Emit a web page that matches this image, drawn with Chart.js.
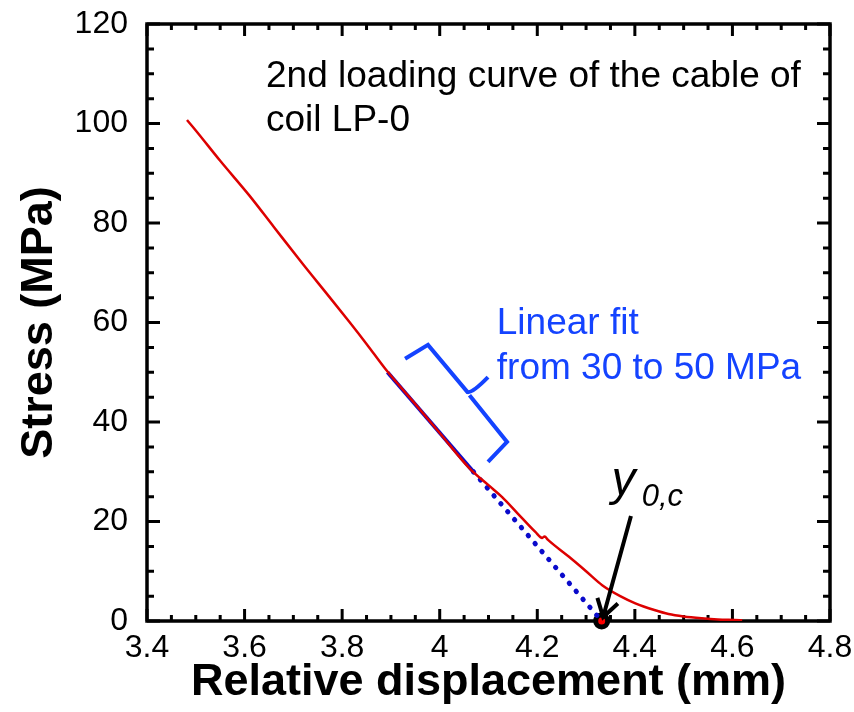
<!DOCTYPE html>
<html>
<head>
<meta charset="utf-8">
<script src="https://cdn.jsdelivr.net/npm/chart.js@4.4.1/dist/chart.umd.min.js"></script>
<style>
  html, body { margin: 0; background: #fff; }
  .wrap { width: 854px; height: 712px; }
</style>
</head>
<body>
<div class="wrap"><canvas id="stress-chart"></canvas></div>
<script>
// 2nd loading curve, cable of coil LP-0
const displacement = [3.482, 3.50, 3.55, 3.61, 3.66, 3.719, 3.77, 3.815, 3.85, 3.89, 3.95, 4.00,
  4.06, 4.10, 4.128, 4.16, 4.196, 4.21, 4.215, 4.222, 4.265, 4.30, 4.333, 4.37, 4.401, 4.44,
  4.469, 4.50, 4.537, 4.57, 4.605, 4.62];
const stress = [100.7, 98.6, 92.5, 85.5, 79.2, 71.8, 65.6, 60.1, 55.7, 50.5, 43.6, 37.8,
  30.8, 27.3, 24.9, 21.6, 17.9, 16.7, 17.0, 16.3, 12.9, 10.0, 7.2, 5.0, 3.55, 2.2,
  1.4, 0.9, 0.53, 0.3, 0.2, 0.15];

// linear fit from 30 to 50 MPa and its extension down to zero stress
const fitDisp = [3.893, 4.069];
const fitStress = [50, 30];
const extDisp = [4.069, 4.332];
const extStress = [30, 0];

// intercept y0,c
const interceptDisp = [4.332];
const interceptStress = [0];

const xTicks = [3.4, 3.6, 3.8, 4, 4.2, 4.4, 4.6, 4.8];
const yTicks = [0, 20, 40, 60, 80, 100, 120];

const family = "'Liberation Sans', Arial, Helvetica, sans-serif";
const fitBlue = '#0a0acb';
const noteBlue = '#1443ff';

const pts = (xs, ys) => xs.map((v, i) => ({ x: v, y: ys[i] }));

// box, inward ticks on all four sides
const frame = {
  id: 'frame',
  beforeDatasetsDraw(chart) {
    const { ctx, chartArea: a, scales: { x, y } } = chart;
    ctx.save();
    ctx.strokeStyle = '#000';
    ctx.lineWidth = 3;
    ctx.beginPath();
    for (let i = 0; i <= 28; i++) {
      const px = x.getPixelForValue(3.4 + i * 0.05);
      const len = i % 4 === 0 ? 12 : 6;
      ctx.moveTo(px, a.bottom); ctx.lineTo(px, a.bottom - len);
      ctx.moveTo(px, a.top); ctx.lineTo(px, a.top + len);
    }
    for (let i = 0; i <= 24; i++) {
      const py = y.getPixelForValue(i * 5);
      const len = i % 4 === 0 ? 13 : 7;
      ctx.moveTo(a.left, py); ctx.lineTo(a.left + len, py);
      ctx.moveTo(a.right, py); ctx.lineTo(a.right - len, py);
    }
    ctx.stroke();
    ctx.lineWidth = 3.5;
    ctx.strokeRect(a.left, a.top, a.right - a.left, a.bottom - a.top);
    ctx.restore();
  }
};

// text notes, bracket over the fit range, arrow to y0,c
const notes = {
  id: 'notes',
  afterDatasetsDraw(chart) {
    const { ctx, scales: { x, y } } = chart;
    const at = (vx, vy) => [x.getPixelForValue(vx), y.getPixelForValue(vy)];
    ctx.save();
    ctx.textBaseline = 'alphabetic';
    ctx.textAlign = 'left';

    ctx.fillStyle = '#000';
    ctx.font = `37px ${family}`;
    ctx.fillText('2nd loading curve of the cable of', ...at(3.644, 107.3));
    ctx.fillText('coil LP-0', ...at(3.644, 98.5));

    ctx.fillStyle = noteBlue;
    ctx.fillText('Linear fit', ...at(4.117, 57.7));
    ctx.fillText('from 30 to 50 MPa', ...at(4.117, 48.6));

    // bracket
    ctx.strokeStyle = noteBlue;
    ctx.lineWidth = 4;
    ctx.lineJoin = 'miter';
    ctx.lineCap = 'butt';
    const upper = [[3.929, 52.7], [3.976, 55.5], [4.057, 46.0]];
    const lower = [[4.061, 45.4], [4.138, 36.0], [4.099, 32.0]];
    ctx.beginPath();
    upper.forEach((p, i) => {
      const [px, py] = at(...p);
      i ? ctx.lineTo(px, py) : ctx.moveTo(px, py);
    });
    const [jx, jy] = at(4.059, 45.6);
    const [tx, ty] = at(4.099, 49.0);
    ctx.quadraticCurveTo(jx + 4, jy - 1, tx, ty);
    lower.forEach((p, i) => {
      const [px, py] = at(...p);
      i ? ctx.lineTo(px, py) : ctx.moveTo(px, py);
    });
    ctx.stroke();

    // y0,c label
    ctx.fillStyle = '#000';
    ctx.font = `italic 48px ${family}`;
    ctx.fillText('y', ...at(4.352, 25.3));
    ctx.font = `italic 31px ${family}`;
    ctx.fillText('0,c', ...at(4.414, 23.1));

    // arrow
    const [sx, sy] = at(4.392, 21.1);
    const [ex, ey] = at(4.335, 0.8);
    const ang = Math.atan2(sy - ey, sx - ex);
    const head = 20, spread = 0.56;
    ctx.strokeStyle = '#000';
    ctx.lineWidth = 4;
    ctx.lineCap = 'butt';
    ctx.beginPath();
    ctx.moveTo(sx, sy); ctx.lineTo(ex, ey);
    ctx.moveTo(ex + head * Math.cos(ang - spread), ey + head * Math.sin(ang - spread));
    ctx.lineTo(ex, ey);
    ctx.lineTo(ex + head * Math.cos(ang + spread), ey + head * Math.sin(ang + spread));
    ctx.stroke();
    ctx.restore();
  }
};

new Chart(document.getElementById('stress-chart'), {
  type: 'line',
  data: {
    datasets: [
      {
        data: pts(displacement, stress),
        borderColor: '#dd0000',
        borderWidth: 2.5,
        pointRadius: 0,
        cubicInterpolationMode: 'monotone'
      },
      {
        data: pts(fitDisp, fitStress),
        borderColor: fitBlue,
        borderWidth: 4,
        pointRadius: 0
      },
      {
        data: pts(extDisp, extStress),
        borderColor: fitBlue,
        borderWidth: 5,
        borderDash: [0.5, 10],
        borderCapStyle: 'round',
        pointRadius: 0
      },
      {
        data: pts(interceptDisp, interceptStress),
        showLine: false,
        pointRadius: 6,
        pointBorderWidth: 5,
        pointBorderColor: '#000',
        pointBackgroundColor: '#ff0000',
        clip: false
      }
    ]
  },
  options: {
    responsive: true,
    maintainAspectRatio: false,
    animation: false,
    layout: { padding: { top: 24, right: 24, left: 0, bottom: 0 } },
    plugins: { legend: { display: false }, tooltip: { enabled: false } },
    scales: {
      x: {
        type: 'linear',
        min: 3.4,
        max: 4.8,
        grid: { display: false, drawTicks: false },
        border: { display: false },
        afterBuildTicks: s => { s.ticks = xTicks.map(v => ({ value: v })); },
        afterFit: s => { s.height = 91; s.paddingLeft = 0; s.paddingRight = 0; },
        ticks: {
          color: '#000',
          font: { family, size: 32 },
          padding: 8,
          maxRotation: 0,
          autoSkip: false,
          callback: v => String(v)
        },
        title: {
          display: true,
          text: 'Relative displacement (mm)',
          color: '#000',
          font: { family, size: 45, weight: 'bold' },
          padding: { top: 0, bottom: 2 }
        }
      },
      y: {
        min: 0,
        max: 120,
        grid: { display: false, drawTicks: false },
        border: { display: false },
        afterBuildTicks: s => { s.ticks = yTicks.map(v => ({ value: v })); },
        afterFit: s => { s.width = 147; s.paddingTop = 0; s.paddingBottom = 0; },
        ticks: {
          color: '#000',
          font: { family, size: 32 },
          padding: 19,
          callback: v => String(v)
        },
        title: {
          display: true,
          text: 'Stress (MPa)',
          color: '#000',
          font: { family, size: 45, weight: 'bold' },
          padding: { top: 13, bottom: 0 }
        }
      }
    }
  },
  plugins: [frame, notes]
});
</script>
</body>
</html>
